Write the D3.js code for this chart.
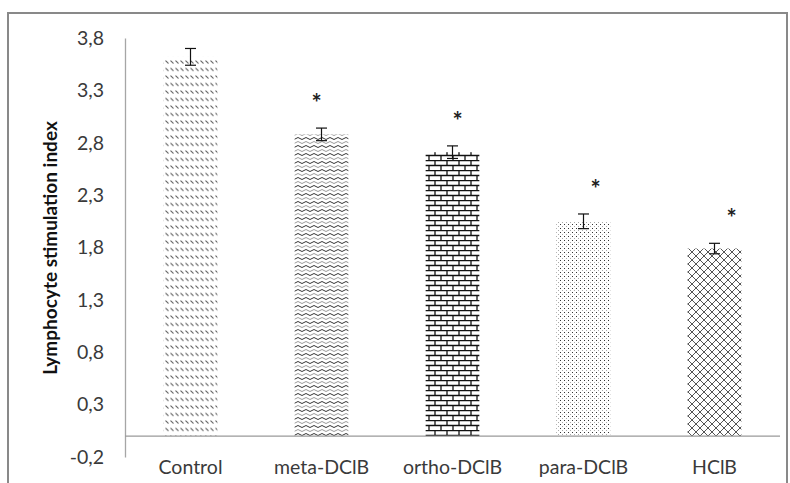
<!DOCTYPE html>
<html>
<head>
<meta charset="utf-8">
<script src="https://cdnjs.cloudflare.com/ajax/libs/d3/7.8.5/d3.min.js"></script>
<style>
  body { margin: 0; background: #fff; }
  text { font-family: Lato, "Open Sans", sans-serif; }
</style>
</head>
<body>
<script>
// data
var categories = ["Control", "meta-DClB", "ortho-DClB", "para-DClB", "HClB"];
var values = [3.62, 2.88, 2.71, 2.05, 1.79];
var errors = [0.08, 0.06, 0.06, 0.07, 0.05];
var significant = [false, true, true, true, true];
var yTicks = [-0.2, 0.3, 0.8, 1.3, 1.8, 2.3, 2.8, 3.3, 3.8];

var width = 790;
var height = 483;

var svg = d3.select("body")
  .append("svg")
  .attr("width", width)
  .attr("height", height);

// hand placed stars drift a little right in the original
var starShift = [0, -5, 5, 12, 17];

// frame
svg.append("rect")
  .attr("x", 8)
  .attr("y", 13)
  .attr("width", 779)
  .attr("height", 490)
  .attr("fill", "none")
  .attr("stroke", "#898989")
  .attr("stroke-width", 2);

// fill patterns
var defs = svg.append("defs");

var p0 = defs.append("pattern").attr("id", "p0")
  .attr("patternUnits", "userSpaceOnUse").attr("width", 5).attr("height", 7.5);
p0.append("path").attr("d", "M0.5,0.5L3.5,3.5").attr("stroke", "#555").attr("stroke-width", 1);

var p1 = defs.append("pattern").attr("id", "p1")
  .attr("patternUnits", "userSpaceOnUse").attr("width", 8).attr("height", 8);
p1.append("path").attr("d", "M0,2.5Q2,0.5 4,2.5T8,2.5").attr("fill", "none").attr("stroke", "#333").attr("stroke-width", 1);
p1.append("path").attr("d", "M0,6.5Q2,4.5 4,6.5T8,6.5").attr("fill", "none").attr("stroke", "#999").attr("stroke-width", 1);

var p2 = defs.append("pattern").attr("id", "p2")
  .attr("patternUnits", "userSpaceOnUse").attr("width", 12).attr("height", 10);
p2.append("path").attr("d", "M0,0.5H12M0,5.5H12M3,0V5.5M9,5.5V10")
  .attr("fill", "none").attr("stroke", "#111").attr("stroke-width", 1.3);

var p3 = defs.append("pattern").attr("id", "p3")
  .attr("patternUnits", "userSpaceOnUse").attr("width", 4).attr("height", 4);
p3.append("rect").attr("x", 0).attr("y", 0).attr("width", 1).attr("height", 1).attr("fill", "#333");
p3.append("rect").attr("x", 2).attr("y", 2).attr("width", 1).attr("height", 1).attr("fill", "#aaa");

var p4 = defs.append("pattern").attr("id", "p4")
  .attr("patternUnits", "userSpaceOnUse").attr("width", 8).attr("height", 8);
p4.append("path").attr("d", "M0,0L8,8M8,0L0,8").attr("stroke", "#555").attr("stroke-width", 1);

// scales
var xScale = d3.scaleBand()
  .domain(categories)
  .range([125, 780])
  .paddingInner(0.59)
  .paddingOuter(0.295);

var yScale = d3.scaleLinear()
  .domain([-0.2, 3.8])
  .range([457, 38]);

var locale = d3.formatLocale({decimal: ",", thousands: ".", grouping: [3], currency: ["", ""], minus: "-"});
var fmt = locale.format(".1f");

// y axis
var yAxis = svg.append("g")
  .attr("transform", "translate(125,0)")
  .call(d3.axisLeft(yScale).tickValues(yTicks).tickFormat(fmt).tickSize(0).tickPadding(21));
yAxis.select(".domain").attr("stroke", "#a6a6a6").attr("stroke-width", 1.3);
yAxis.selectAll("text")
  .attr("font-size", 19.5)
  .attr("fill", "#3a3a3a")
  .style("font-family", "Lato, sans-serif");

// axis title
svg.append("text")
  .attr("transform", "translate(57,248) rotate(-90)")
  .attr("text-anchor", "middle")
  .attr("font-size", 19)
  .attr("font-weight", "bold")
  .attr("fill", "#111")
  .text("Lymphocyte stimulation index");

// bars
svg.selectAll("rect.bar")
  .data(values)
  .enter()
  .append("rect")
  .attr("class", "bar")
  .attr("x", function(d, i) { return xScale(categories[i]); })
  .attr("y", function(d) { return yScale(d); })
  .attr("width", xScale.bandwidth())
  .attr("height", function(d) { return yScale(0) - yScale(d); })
  .attr("fill", function(d, i) { return "url(#p" + i + ")"; });

// baseline at zero
svg.append("line")
  .attr("x1", 125)
  .attr("x2", 780)
  .attr("y1", yScale(0))
  .attr("y2", yScale(0))
  .attr("stroke", "#9a9a9a")
  .attr("stroke-width", 1.3);

// category labels
svg.selectAll("text.cat")
  .data(categories)
  .enter()
  .append("text")
  .attr("class", "cat")
  .attr("x", function(d) { return xScale(d) + xScale.bandwidth() / 2; })
  .attr("y", 474)
  .attr("text-anchor", "middle")
  .attr("font-size", 19.5)
  .attr("fill", "#3a3a3a")
  .text(function(d) { return d; });

// error bars
var err = svg.selectAll("g.err")
  .data(values)
  .enter()
  .append("g")
  .attr("class", "err")
  .attr("stroke", "#111")
  .attr("stroke-width", 1.2);

err.append("line")
  .attr("x1", function(d, i) { return xScale(categories[i]) + xScale.bandwidth() / 2; })
  .attr("x2", function(d, i) { return xScale(categories[i]) + xScale.bandwidth() / 2; })
  .attr("y1", function(d, i) { return yScale(d - errors[i]); })
  .attr("y2", function(d, i) { return yScale(d + errors[i]); });

[-1, 1].forEach(function(s) {
  err.append("line")
    .attr("x1", function(d, i) { return xScale(categories[i]) + xScale.bandwidth() / 2 - 5.5; })
    .attr("x2", function(d, i) { return xScale(categories[i]) + xScale.bandwidth() / 2 + 5.5; })
    .attr("y1", function(d, i) { return yScale(d + s * errors[i]); })
    .attr("y2", function(d, i) { return yScale(d + s * errors[i]); });
});

// significance stars
var starIdx = d3.range(values.length).filter(function(i) { return significant[i]; });
svg.selectAll("text.star")
  .data(starIdx)
  .enter()
  .append("text")
  .attr("class", "star")
  .attr("x", function(i) { return xScale(categories[i]) + xScale.bandwidth() / 2 + starShift[i]; })
  .attr("y", function(i) { return yScale(values[i] + errors[i]) - 16; })
  .attr("text-anchor", "middle")
  .attr("font-size", 24)
  .attr("font-weight", "bold")
  .attr("fill", "#222")
  .text("*");
</script>
</body>
</html>
